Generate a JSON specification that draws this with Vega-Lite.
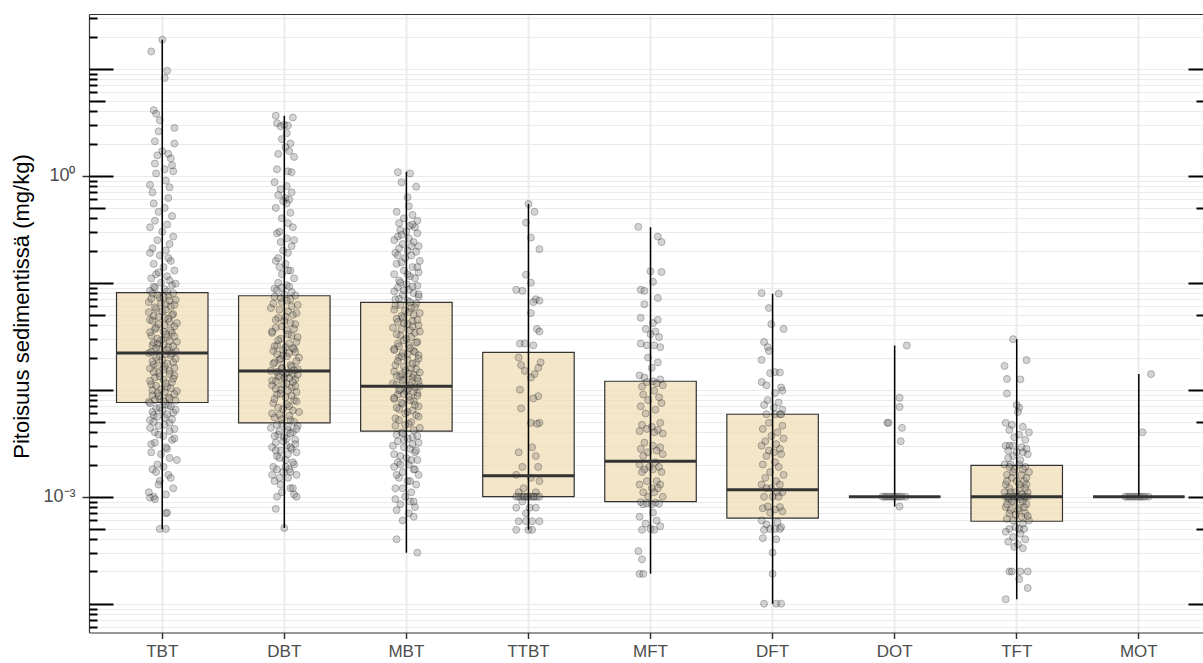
{
"$schema": "https://vega.github.io/schema/vega-lite/v6.json",
"width": 1114,
"height": 618.5,
"autosize": {"type": "none"},
"padding": {"left": 89, "top": 14, "right": 0, "bottom": 30.5},
"background": "white",
"config": {"view": {"stroke": null}, "font": "Liberation Sans", "axis": {"labelFont": "Liberation Sans", "titleFont": "Liberation Sans"}},
"datasets": {
"box": [
{"g":"TBT","min":0.0005,"q1":0.0076,"med":0.022,"q3":0.081,"max":18.7},
{"g":"DBT","min":0.00051,"q1":0.0049,"med":0.015,"q3":0.0756,"max":3.64},
{"g":"MBT","min":0.0003,"q1":0.0041,"med":0.0108,"q3":0.0654,"max":1.09},
{"g":"TTBT","min":0.00049,"q1":0.001,"med":0.00157,"q3":0.0223,"max":0.545},
{"g":"MFT","min":0.00019,"q1":0.0009,"med":0.00214,"q3":0.012,"max":0.33},
{"g":"DFT","min":0.0001,"q1":0.00063,"med":0.00116,"q3":0.0059,"max":0.079},
{"g":"DOT","min":0.00081,"q1":0.001,"med":0.001,"q3":0.001,"max":0.0259},
{"g":"TFT","min":0.00011,"q1":0.00059,"med":0.001,"q3":0.00196,"max":0.0297},
{"g":"MOT","min":0.001,"q1":0.001,"med":0.001,"q3":0.001,"max":0.014}
],
"pts": [
{"g":"TBT","v":18.7,"j":0},{"g":"TBT","v":14.5,"j":-0.09},{"g":"TBT","v":9.6,"j":0.04},{"g":"TBT","v":8.2,"j":0.02},{"g":"TBT","v":4.1,"j":-0.07},{"g":"TBT","v":3.8,"j":-0.05},{"g":"TBT","v":3.3,"j":-0.02},{"g":"TBT","v":2.8,"j":0.1},{"g":"TBT","v":2.6,"j":-0.03},{"g":"TBT","v":2.1,"j":-0.06},{"g":"TBT","v":2.0,"j":0.1},{"g":"TBT","v":1.7,"j":0},{"g":"TBT","v":1.6,"j":0.05},{"g":"TBT","v":1.55,"j":-0.04},{"g":"TBT","v":1.45,"j":0.07},{"g":"TBT","v":1.3,"j":-0.06},{"g":"TBT","v":1.25,"j":0.08},{"g":"TBT","v":1.15,"j":0.02},{"g":"TBT","v":1.1,"j":0.09},{"g":"TBT","v":1.05,"j":-0.05},{"g":"TBT","v":0.9,"j":0.03},{"g":"TBT","v":0.82,"j":-0.1},{"g":"TBT","v":0.78,"j":0.06},{"g":"TBT","v":0.7,"j":-0.08},{"g":"TBT","v":0.62,"j":0.05},{"g":"TBT","v":0.55,"j":-0.07},{"g":"TBT","v":0.5,"j":0.02},{"g":"TBT","v":0.46,"j":-0.03},{"g":"TBT","v":0.42,"j":0.08},{"g":"TBT","v":0.38,"j":-0.06},{"g":"TBT","v":0.35,"j":0.04},{"g":"TBT","v":0.33,"j":-0.1},{"g":"TBT","v":0.3,"j":0},{"g":"TBT","v":0.27,"j":0.09},{"g":"TBT","v":0.25,"j":-0.04},{"g":"TBT","v":0.23,"j":0.06},{"g":"TBT","v":0.21,"j":-0.08},{"g":"TBT","v":0.2,"j":0.03},{"g":"TBT","v":0.18,"j":-0.02},{"g":"TBT","v":0.16,"j":0.07},{"g":"TBT","v":0.15,"j":-0.07},{"g":"TBT","v":0.14,"j":0.01},{"g":"TBT","v":0.13,"j":0.1},{"g":"TBT","v":0.12,"j":-0.05},{"g":"TBT","v":0.115,"j":0.04},{"g":"TBT","v":0.11,"j":-0.09},{"g":"TBT","v":0.105,"j":0.06},{"g":"TBT","v":0.1,"j":-0.01},{"g":"TBT","v":0.095,"j":0.08},{"g":"TBT","v":0.09,"j":-0.06},{"g":"TBT","v":0.087,"j":0.02},{"g":"TBT","v":0.084,"j":-0.1},
{"g":"TBT","v":0.079,"j":-0.08},{"g":"TBT","v":0.075,"j":0.05},{"g":"TBT","v":0.072,"j":-0.02},{"g":"TBT","v":0.069,"j":0.11},{"g":"TBT","v":0.066,"j":-0.11},{"g":"TBT","v":0.063,"j":0.03},{"g":"TBT","v":0.06,"j":0.07},{"g":"TBT","v":0.057,"j":-0.05},{"g":"TBT","v":0.054,"j":0},{"g":"TBT","v":0.051,"j":0.09},{"g":"TBT","v":0.049,"j":-0.07},{"g":"TBT","v":0.047,"j":0.02},{"g":"TBT","v":0.045,"j":-0.1},{"g":"TBT","v":0.043,"j":0.06},{"g":"TBT","v":0.041,"j":-0.03},{"g":"TBT","v":0.039,"j":0.1},{"g":"TBT","v":0.037,"j":-0.06},{"g":"TBT","v":0.035,"j":0.01},{"g":"TBT","v":0.034,"j":0.08},{"g":"TBT","v":0.032,"j":-0.09},{"g":"TBT","v":0.031,"j":0.04},{"g":"TBT","v":0.029,"j":-0.01},{"g":"TBT","v":0.028,"j":0.12},{"g":"TBT","v":0.027,"j":-0.04},{"g":"TBT","v":0.026,"j":-0.08},{"g":"TBT","v":0.025,"j":0.05},{"g":"TBT","v":0.024,"j":-0.02},{"g":"TBT","v":0.023,"j":0.11},{"g":"TBT","v":0.022,"j":-0.11},{"g":"TBT","v":0.0215,"j":0.03},{"g":"TBT","v":0.021,"j":0.07},{"g":"TBT","v":0.02,"j":-0.05},{"g":"TBT","v":0.019,"j":0},{"g":"TBT","v":0.018,"j":0.09},{"g":"TBT","v":0.0172,"j":-0.07},{"g":"TBT","v":0.0165,"j":0.02},{"g":"TBT","v":0.0158,"j":-0.1},{"g":"TBT","v":0.015,"j":0.06},{"g":"TBT","v":0.0143,"j":-0.03},{"g":"TBT","v":0.0136,"j":0.1},{"g":"TBT","v":0.013,"j":-0.06},{"g":"TBT","v":0.0124,"j":0.01},{"g":"TBT","v":0.0118,"j":0.08},{"g":"TBT","v":0.0112,"j":-0.09},{"g":"TBT","v":0.0106,"j":0.04},{"g":"TBT","v":0.0101,"j":-0.01},{"g":"TBT","v":0.0097,"j":0.12},{"g":"TBT","v":0.0093,"j":-0.04},{"g":"TBT","v":0.0089,"j":-0.08},{"g":"TBT","v":0.0085,"j":0.05},{"g":"TBT","v":0.0082,"j":-0.02},{"g":"TBT","v":0.0079,"j":0.11},{"g":"TBT","v":0.0077,"j":-0.11},
{"g":"TBT","v":0.0073,"j":0.03},{"g":"TBT","v":0.007,"j":0.07},{"g":"TBT","v":0.0067,"j":-0.05},{"g":"TBT","v":0.0064,"j":0},{"g":"TBT","v":0.0061,"j":0.09},{"g":"TBT","v":0.0058,"j":-0.07},{"g":"TBT","v":0.0055,"j":0.02},{"g":"TBT","v":0.0052,"j":-0.1},{"g":"TBT","v":0.0049,"j":0.06},{"g":"TBT","v":0.0046,"j":-0.03},{"g":"TBT","v":0.0043,"j":0.1},{"g":"TBT","v":0.004,"j":-0.06},{"g":"TBT","v":0.0037,"j":0.01},{"g":"TBT","v":0.0034,"j":0.08},{"g":"TBT","v":0.0031,"j":-0.09},{"g":"TBT","v":0.0028,"j":0.04},{"g":"TBT","v":0.0025,"j":-0.01},{"g":"TBT","v":0.0022,"j":0.12},{"g":"TBT","v":0.002,"j":-0.04},{"g":"TBT","v":0.0018,"j":-0.08},{"g":"TBT","v":0.0016,"j":0.05},{"g":"TBT","v":0.0014,"j":-0.02},{"g":"TBT","v":0.0012,"j":0.09},{"g":"TBT","v":0.0011,"j":-0.11},{"g":"TBT","v":0.00105,"j":0.03},{"g":"TBT","v":0.001,"j":-0.07},{"g":"TBT","v":0.00098,"j":-0.1},{"g":"TBT","v":0.00095,"j":-0.06},{"g":"TBT","v":0.0007,"j":0.03},{"g":"TBT","v":0.00071,"j":0.04},{"g":"TBT","v":0.0005,"j":-0.02},{"g":"TBT","v":0.0005,"j":0.03},
{"g":"TBT","v":0.19,"j":-0.1},{"g":"TBT","v":0.17,"j":0.05},{"g":"TBT","v":0.125,"j":-0.03},{"g":"TBT","v":0.098,"j":0.11},{"g":"TBT","v":0.092,"j":-0.07},{"g":"TBT","v":0.083,"j":0.04},{"g":"TBT","v":0.08,"j":0.09},{"g":"TBT","v":0.077,"j":-0.04},{"g":"TBT","v":0.074,"j":0.01},{"g":"TBT","v":0.071,"j":-0.09},{"g":"TBT","v":0.068,"j":0.06},{"g":"TBT","v":0.065,"j":-0.01},{"g":"TBT","v":0.062,"j":0.1},{"g":"TBT","v":0.059,"j":-0.06},{"g":"TBT","v":0.056,"j":0.03},{"g":"TBT","v":0.053,"j":-0.11},{"g":"TBT","v":0.05,"j":0.08},{"g":"TBT","v":0.048,"j":-0.03},{"g":"TBT","v":0.046,"j":0.05},{"g":"TBT","v":0.044,"j":-0.08},{"g":"TBT","v":0.042,"j":0.12},{"g":"TBT","v":0.04,"j":0.02},{"g":"TBT","v":0.038,"j":-0.05},{"g":"TBT","v":0.036,"j":0.07},{"g":"TBT","v":0.0345,"j":-0.1},{"g":"TBT","v":0.033,"j":0.03},{"g":"TBT","v":0.0315,"j":0.1},{"g":"TBT","v":0.03,"j":-0.04},{"g":"TBT","v":0.0285,"j":0.06},{"g":"TBT","v":0.0275,"j":-0.07},{"g":"TBT","v":0.0265,"j":0.01},{"g":"TBT","v":0.0255,"j":0.09},{"g":"TBT","v":0.0245,"j":-0.05},{"g":"TBT","v":0.0235,"j":0.04},{"g":"TBT","v":0.0225,"j":-0.09},{"g":"TBT","v":0.0218,"j":0.08},{"g":"TBT","v":0.0205,"j":-0.02},{"g":"TBT","v":0.0195,"j":0.11},{"g":"TBT","v":0.0185,"j":-0.08},{"g":"TBT","v":0.0176,"j":0.04},{"g":"TBT","v":0.0168,"j":-0.04},{"g":"TBT","v":0.016,"j":0.1},{"g":"TBT","v":0.0154,"j":0.01},{"g":"TBT","v":0.0146,"j":-0.07},{"g":"TBT","v":0.014,"j":0.06},{"g":"TBT","v":0.0133,"j":-0.02},{"g":"TBT","v":0.0127,"j":0.09},{"g":"TBT","v":0.0121,"j":-0.1},{"g":"TBT","v":0.0115,"j":0.03},{"g":"TBT","v":0.0109,"j":-0.05},{"g":"TBT","v":0.0103,"j":0.07},{"g":"TBT","v":0.0099,"j":-0.08},{"g":"TBT","v":0.0095,"j":0.02},{"g":"TBT","v":0.0091,"j":0.1},{"g":"TBT","v":0.0087,"j":-0.03},{"g":"TBT","v":0.0083,"j":0.06},{"g":"TBT","v":0.008,"j":-0.06},{"g":"TBT","v":0.0078,"j":0.01},{"g":"TBT","v":0.0075,"j":-0.1},{"g":"TBT","v":0.0071,"j":0.05},{"g":"TBT","v":0.0068,"j":-0.02},{"g":"TBT","v":0.0065,"j":0.11},{"g":"TBT","v":0.0062,"j":-0.08},{"g":"TBT","v":0.0059,"j":0.04},{"g":"TBT","v":0.0056,"j":-0.04},{"g":"TBT","v":0.0053,"j":0.08},{"g":"TBT","v":0.005,"j":-0.07},{"g":"TBT","v":0.0047,"j":0.02},{"g":"TBT","v":0.0044,"j":-0.1},{"g":"TBT","v":0.0041,"j":0.06},{"g":"TBT","v":0.0038,"j":-0.03},{"g":"TBT","v":0.0035,"j":0.1},{"g":"TBT","v":0.0032,"j":-0.06},{"g":"TBT","v":0.0029,"j":0.03},{"g":"TBT","v":0.0026,"j":-0.09},{"g":"TBT","v":0.0023,"j":0.06},{"g":"TBT","v":0.0019,"j":0.01},{"g":"TBT","v":0.0017,"j":-0.05},{"g":"TBT","v":0.0015,"j":0.07},{"g":"TBT","v":0.0013,"j":-0.03},
{"g":"DBT","v":3.64,"j":-0.07},{"g":"DBT","v":3.5,"j":0.07},{"g":"DBT","v":3.1,"j":-0.06},{"g":"DBT","v":3.0,"j":0},{"g":"DBT","v":2.95,"j":0.03},{"g":"DBT","v":2.9,"j":-0.03},{"g":"DBT","v":2.5,"j":0.02},{"g":"DBT","v":2.2,"j":-0.02},{"g":"DBT","v":2.0,"j":0.05},{"g":"DBT","v":1.85,"j":0.01},{"g":"DBT","v":1.7,"j":0.04},{"g":"DBT","v":1.6,"j":-0.05},{"g":"DBT","v":1.5,"j":0.08},{"g":"DBT","v":1.15,"j":-0.06},{"g":"DBT","v":1.1,"j":0.03},{"g":"DBT","v":1.08,"j":0.06},{"g":"DBT","v":0.87,"j":-0.08},{"g":"DBT","v":0.8,"j":0.02},{"g":"DBT","v":0.75,"j":-0.03},{"g":"DBT","v":0.7,"j":0.06},{"g":"DBT","v":0.66,"j":-0.05},{"g":"DBT","v":0.62,"j":0.01},{"g":"DBT","v":0.6,"j":0.04},{"g":"DBT","v":0.58,"j":-0.01},{"g":"DBT","v":0.5,"j":-0.07},{"g":"DBT","v":0.45,"j":0.05},{"g":"DBT","v":0.4,"j":-0.02},{"g":"DBT","v":0.36,"j":0.03},{"g":"DBT","v":0.33,"j":0.07},{"g":"DBT","v":0.29,"j":-0.06},{"g":"DBT","v":0.26,"j":0.02},{"g":"DBT","v":0.24,"j":-0.03},{"g":"DBT","v":0.22,"j":0.06},{"g":"DBT","v":0.2,"j":-0.01},{"g":"DBT","v":0.19,"j":0.03},{"g":"DBT","v":0.16,"j":-0.07},{"g":"DBT","v":0.15,"j":0.01},{"g":"DBT","v":0.14,"j":-0.04},{"g":"DBT","v":0.13,"j":0.05},{"g":"DBT","v":0.12,"j":-0.02},{"g":"DBT","v":0.11,"j":0.08},{"g":"DBT","v":0.1,"j":-0.05},{"g":"DBT","v":0.095,"j":0.02},{"g":"DBT","v":0.088,"j":-0.08},{"g":"DBT","v":0.082,"j":0.06},{"g":"DBT","v":0.078,"j":0},
{"g":"DBT","v":0.074,"j":-0.08},{"g":"DBT","v":0.07,"j":0.05},{"g":"DBT","v":0.066,"j":-0.02},{"g":"DBT","v":0.062,"j":0.11},{"g":"DBT","v":0.058,"j":-0.11},{"g":"DBT","v":0.054,"j":0.03},{"g":"DBT","v":0.05,"j":0.07},{"g":"DBT","v":0.047,"j":-0.05},{"g":"DBT","v":0.044,"j":0},{"g":"DBT","v":0.041,"j":0.09},{"g":"DBT","v":0.038,"j":-0.07},{"g":"DBT","v":0.036,"j":0.02},{"g":"DBT","v":0.034,"j":-0.1},{"g":"DBT","v":0.032,"j":0.06},{"g":"DBT","v":0.03,"j":-0.03},{"g":"DBT","v":0.028,"j":0.1},{"g":"DBT","v":0.026,"j":-0.06},{"g":"DBT","v":0.025,"j":0.01},{"g":"DBT","v":0.024,"j":0.08},{"g":"DBT","v":0.023,"j":-0.09},{"g":"DBT","v":0.022,"j":0.04},{"g":"DBT","v":0.021,"j":-0.01},{"g":"DBT","v":0.02,"j":0.12},{"g":"DBT","v":0.019,"j":-0.04},{"g":"DBT","v":0.018,"j":-0.08},{"g":"DBT","v":0.017,"j":0.05},{"g":"DBT","v":0.016,"j":-0.02},{"g":"DBT","v":0.0155,"j":0.11},{"g":"DBT","v":0.015,"j":-0.11},{"g":"DBT","v":0.0145,"j":0.03},{"g":"DBT","v":0.014,"j":0.07},{"g":"DBT","v":0.0135,"j":-0.05},{"g":"DBT","v":0.013,"j":0},{"g":"DBT","v":0.0125,"j":0.09},{"g":"DBT","v":0.012,"j":-0.07},{"g":"DBT","v":0.0115,"j":0.02},{"g":"DBT","v":0.011,"j":-0.1},{"g":"DBT","v":0.0105,"j":0.06},{"g":"DBT","v":0.01,"j":-0.03},{"g":"DBT","v":0.0095,"j":0.1},{"g":"DBT","v":0.009,"j":-0.06},{"g":"DBT","v":0.0085,"j":0.01},{"g":"DBT","v":0.008,"j":0.08},{"g":"DBT","v":0.0075,"j":-0.09},{"g":"DBT","v":0.007,"j":0.04},{"g":"DBT","v":0.0066,"j":-0.01},{"g":"DBT","v":0.0062,"j":0.12},{"g":"DBT","v":0.0058,"j":-0.04},{"g":"DBT","v":0.0055,"j":-0.08},{"g":"DBT","v":0.0052,"j":0.05},
{"g":"DBT","v":0.0048,"j":-0.02},{"g":"DBT","v":0.0046,"j":0.11},{"g":"DBT","v":0.0044,"j":-0.11},{"g":"DBT","v":0.0042,"j":0.03},{"g":"DBT","v":0.004,"j":0.07},{"g":"DBT","v":0.0038,"j":-0.05},{"g":"DBT","v":0.0036,"j":0},{"g":"DBT","v":0.0034,"j":0.09},{"g":"DBT","v":0.0032,"j":-0.07},{"g":"DBT","v":0.003,"j":0.02},{"g":"DBT","v":0.0029,"j":-0.1},{"g":"DBT","v":0.0028,"j":0.06},{"g":"DBT","v":0.0027,"j":-0.03},{"g":"DBT","v":0.0026,"j":0.1},{"g":"DBT","v":0.0024,"j":-0.06},{"g":"DBT","v":0.0022,"j":0.01},{"g":"DBT","v":0.002,"j":0.08},{"g":"DBT","v":0.0019,"j":-0.09},{"g":"DBT","v":0.0018,"j":0.04},{"g":"DBT","v":0.0017,"j":-0.01},{"g":"DBT","v":0.0016,"j":0.1},{"g":"DBT","v":0.0015,"j":-0.04},{"g":"DBT","v":0.0014,"j":-0.08},{"g":"DBT","v":0.0012,"j":0.05},{"g":"DBT","v":0.0011,"j":-0.02},{"g":"DBT","v":0.00105,"j":0.08},{"g":"DBT","v":0.001,"j":-0.06},{"g":"DBT","v":0.001,"j":0.1},{"g":"DBT","v":0.00077,"j":-0.07},{"g":"DBT","v":0.00051,"j":0},
{"g":"DBT","v":0.092,"j":0.04},{"g":"DBT","v":0.085,"j":-0.06},{"g":"DBT","v":0.076,"j":0.09},{"g":"DBT","v":0.072,"j":-0.03},{"g":"DBT","v":0.068,"j":0.02},{"g":"DBT","v":0.064,"j":-0.09},{"g":"DBT","v":0.06,"j":0.06},{"g":"DBT","v":0.056,"j":-0.04},{"g":"DBT","v":0.052,"j":0.1},{"g":"DBT","v":0.048,"j":0.01},{"g":"DBT","v":0.045,"j":-0.07},{"g":"DBT","v":0.042,"j":0.05},{"g":"DBT","v":0.039,"j":-0.02},{"g":"DBT","v":0.037,"j":0.08},{"g":"DBT","v":0.035,"j":-0.1},{"g":"DBT","v":0.033,"j":0.03},{"g":"DBT","v":0.031,"j":0.11},{"g":"DBT","v":0.029,"j":-0.05},{"g":"DBT","v":0.027,"j":0.04},{"g":"DBT","v":0.0255,"j":-0.08},{"g":"DBT","v":0.0245,"j":0.07},{"g":"DBT","v":0.0235,"j":-0.01},{"g":"DBT","v":0.0225,"j":0.09},{"g":"DBT","v":0.0215,"j":-0.06},{"g":"DBT","v":0.0205,"j":0.02},{"g":"DBT","v":0.0195,"j":-0.03},{"g":"DBT","v":0.0185,"j":0.1},{"g":"DBT","v":0.0175,"j":-0.09},{"g":"DBT","v":0.0165,"j":0.06},{"g":"DBT","v":0.0158,"j":-0.02},{"g":"DBT","v":0.0152,"j":0.08},{"g":"DBT","v":0.0147,"j":-0.06},{"g":"DBT","v":0.0142,"j":0.01},{"g":"DBT","v":0.0138,"j":0.11},{"g":"DBT","v":0.0132,"j":-0.04},{"g":"DBT","v":0.0128,"j":0.04},{"g":"DBT","v":0.0122,"j":-0.1},{"g":"DBT","v":0.0118,"j":0.07},{"g":"DBT","v":0.0112,"j":-0.01},{"g":"DBT","v":0.0108,"j":0.09},{"g":"DBT","v":0.0102,"j":-0.07},{"g":"DBT","v":0.0098,"j":0.03},{"g":"DBT","v":0.0092,"j":-0.03},{"g":"DBT","v":0.0088,"j":0.06},{"g":"DBT","v":0.0082,"j":-0.08},{"g":"DBT","v":0.0078,"j":0.1},{"g":"DBT","v":0.0073,"j":0.02},{"g":"DBT","v":0.0068,"j":-0.05},{"g":"DBT","v":0.0064,"j":0.07},{"g":"DBT","v":0.006,"j":-0.1},{"g":"DBT","v":0.0057,"j":0.04},{"g":"DBT","v":0.0053,"j":-0.02},{"g":"DBT","v":0.005,"j":0.08},{"g":"DBT","v":0.0047,"j":-0.06},{"g":"DBT","v":0.0045,"j":0.03},{"g":"DBT","v":0.0043,"j":0.1},{"g":"DBT","v":0.0041,"j":-0.04},{"g":"DBT","v":0.0039,"j":0.05},{"g":"DBT","v":0.0037,"j":-0.08},{"g":"DBT","v":0.0035,"j":0.02},{"g":"DBT","v":0.0033,"j":-0.01},{"g":"DBT","v":0.0031,"j":0.09},{"g":"DBT","v":0.0029,"j":0.05},{"g":"DBT","v":0.0027,"j":-0.07},{"g":"DBT","v":0.0025,"j":0.03},{"g":"DBT","v":0.0023,"j":-0.04},{"g":"DBT","v":0.0021,"j":0.07},{"g":"DBT","v":0.0019,"j":0.01},{"g":"DBT","v":0.0018,"j":-0.06},{"g":"DBT","v":0.0017,"j":0.05},{"g":"DBT","v":0.0016,"j":-0.1},{"g":"DBT","v":0.0015,"j":0.03},{"g":"DBT","v":0.0013,"j":-0.03},{"g":"DBT","v":0.0012,"j":0.07},{"g":"DBT","v":0.09,"j":-0.02},{"g":"DBT","v":0.13,"j":0.03},{"g":"DBT","v":0.17,"j":-0.05},{"g":"DBT","v":0.25,"j":0.08},{"g":"DBT","v":0.3,"j":-0.04},{"g":"DBT","v":0.55,"j":0.02},
{"g":"MBT","v":1.08,"j":-0.07},{"g":"MBT","v":1.05,"j":0.03},{"g":"MBT","v":0.87,"j":-0.04},{"g":"MBT","v":0.79,"j":0.08},{"g":"MBT","v":0.63,"j":0.01},{"g":"MBT","v":0.52,"j":0.02},{"g":"MBT","v":0.46,"j":-0.08},{"g":"MBT","v":0.43,"j":0.05},{"g":"MBT","v":0.4,"j":-0.02},{"g":"MBT","v":0.38,"j":0.09},{"g":"MBT","v":0.36,"j":-0.06},{"g":"MBT","v":0.34,"j":0.03},{"g":"MBT","v":0.33,"j":0.07},{"g":"MBT","v":0.31,"j":-0.05},{"g":"MBT","v":0.3,"j":0},{"g":"MBT","v":0.29,"j":0.09},{"g":"MBT","v":0.27,"j":-0.07},{"g":"MBT","v":0.26,"j":0.02},{"g":"MBT","v":0.25,"j":-0.1},{"g":"MBT","v":0.24,"j":0.06},{"g":"MBT","v":0.23,"j":-0.03},{"g":"MBT","v":0.22,"j":0.1},{"g":"MBT","v":0.21,"j":-0.06},{"g":"MBT","v":0.2,"j":0.01},{"g":"MBT","v":0.195,"j":0.08},{"g":"MBT","v":0.19,"j":-0.09},{"g":"MBT","v":0.18,"j":0.04},{"g":"MBT","v":0.17,"j":-0.01},{"g":"MBT","v":0.16,"j":0.11},{"g":"MBT","v":0.155,"j":-0.04},{"g":"MBT","v":0.15,"j":-0.08},{"g":"MBT","v":0.14,"j":0.05},{"g":"MBT","v":0.13,"j":-0.02},{"g":"MBT","v":0.125,"j":0.1},{"g":"MBT","v":0.12,"j":-0.1},{"g":"MBT","v":0.115,"j":0.03},{"g":"MBT","v":0.11,"j":0.07},{"g":"MBT","v":0.1,"j":-0.05},{"g":"MBT","v":0.097,"j":0},{"g":"MBT","v":0.094,"j":0.09},{"g":"MBT","v":0.09,"j":-0.07},{"g":"MBT","v":0.086,"j":0.02},{"g":"MBT","v":0.083,"j":-0.1},{"g":"MBT","v":0.08,"j":0.06},{"g":"MBT","v":0.077,"j":-0.03},{"g":"MBT","v":0.074,"j":0.1},{"g":"MBT","v":0.071,"j":-0.06},{"g":"MBT","v":0.068,"j":0.01},
{"g":"MBT","v":0.064,"j":0.08},{"g":"MBT","v":0.061,"j":-0.09},{"g":"MBT","v":0.058,"j":0.04},{"g":"MBT","v":0.055,"j":-0.01},{"g":"MBT","v":0.052,"j":0.11},{"g":"MBT","v":0.049,"j":-0.04},{"g":"MBT","v":0.046,"j":-0.08},{"g":"MBT","v":0.044,"j":0.05},{"g":"MBT","v":0.042,"j":-0.02},{"g":"MBT","v":0.04,"j":0.1},{"g":"MBT","v":0.038,"j":-0.11},{"g":"MBT","v":0.036,"j":0.03},{"g":"MBT","v":0.034,"j":0.07},{"g":"MBT","v":0.032,"j":-0.05},{"g":"MBT","v":0.03,"j":0},{"g":"MBT","v":0.028,"j":0.09},{"g":"MBT","v":0.027,"j":-0.07},{"g":"MBT","v":0.026,"j":0.02},{"g":"MBT","v":0.024,"j":-0.1},{"g":"MBT","v":0.023,"j":0.06},{"g":"MBT","v":0.022,"j":-0.03},{"g":"MBT","v":0.021,"j":0.1},{"g":"MBT","v":0.02,"j":-0.06},{"g":"MBT","v":0.019,"j":0.01},{"g":"MBT","v":0.018,"j":0.08},{"g":"MBT","v":0.017,"j":-0.09},{"g":"MBT","v":0.016,"j":0.04},{"g":"MBT","v":0.015,"j":-0.01},{"g":"MBT","v":0.0145,"j":0.11},{"g":"MBT","v":0.014,"j":-0.04},{"g":"MBT","v":0.0135,"j":-0.08},{"g":"MBT","v":0.013,"j":0.05},{"g":"MBT","v":0.0125,"j":-0.02},{"g":"MBT","v":0.012,"j":0.1},{"g":"MBT","v":0.0115,"j":-0.11},{"g":"MBT","v":0.011,"j":0.03},{"g":"MBT","v":0.0105,"j":0.07},{"g":"MBT","v":0.01,"j":-0.05},{"g":"MBT","v":0.0097,"j":0},{"g":"MBT","v":0.0093,"j":0.09},{"g":"MBT","v":0.009,"j":-0.07},{"g":"MBT","v":0.0086,"j":0.02},{"g":"MBT","v":0.0082,"j":-0.1},{"g":"MBT","v":0.0078,"j":0.06},{"g":"MBT","v":0.0074,"j":-0.03},{"g":"MBT","v":0.007,"j":0.1},{"g":"MBT","v":0.0066,"j":-0.06},{"g":"MBT","v":0.0062,"j":0.01},{"g":"MBT","v":0.0058,"j":0.08},{"g":"MBT","v":0.0054,"j":-0.09},{"g":"MBT","v":0.005,"j":0.04},{"g":"MBT","v":0.0047,"j":-0.01},{"g":"MBT","v":0.0044,"j":0.11},
{"g":"MBT","v":0.004,"j":-0.04},{"g":"MBT","v":0.0038,"j":-0.08},{"g":"MBT","v":0.0036,"j":0.05},{"g":"MBT","v":0.0034,"j":-0.02},{"g":"MBT","v":0.0032,"j":0.1},{"g":"MBT","v":0.003,"j":-0.11},{"g":"MBT","v":0.0028,"j":0.03},{"g":"MBT","v":0.0026,"j":0.07},{"g":"MBT","v":0.0024,"j":-0.05},{"g":"MBT","v":0.0023,"j":0},{"g":"MBT","v":0.0022,"j":0.09},{"g":"MBT","v":0.0021,"j":-0.07},{"g":"MBT","v":0.002,"j":0.02},{"g":"MBT","v":0.0019,"j":-0.1},{"g":"MBT","v":0.0018,"j":0.06},{"g":"MBT","v":0.0017,"j":-0.03},{"g":"MBT","v":0.0016,"j":0.1},{"g":"MBT","v":0.0015,"j":-0.06},{"g":"MBT","v":0.0014,"j":0.01},{"g":"MBT","v":0.0013,"j":0.08},{"g":"MBT","v":0.0012,"j":-0.09},{"g":"MBT","v":0.0011,"j":0.04},{"g":"MBT","v":0.001,"j":-0.01},{"g":"MBT","v":0.00095,"j":-0.09},{"g":"MBT","v":0.0009,"j":0.03},{"g":"MBT","v":0.00085,"j":-0.05},{"g":"MBT","v":0.0008,"j":0.07},{"g":"MBT","v":0.00075,"j":-0.08},{"g":"MBT","v":0.0007,"j":0.02},{"g":"MBT","v":0.00065,"j":0.06},{"g":"MBT","v":0.0006,"j":-0.03},{"g":"MBT","v":0.0004,"j":-0.08},{"g":"MBT","v":0.0003,"j":0.09},
{"g":"MBT","v":0.35,"j":0.05},{"g":"MBT","v":0.28,"j":-0.04},{"g":"MBT","v":0.22,"j":0.04},{"g":"MBT","v":0.18,"j":-0.07},{"g":"MBT","v":0.14,"j":0.09},{"g":"MBT","v":0.12,"j":0.01},{"g":"MBT","v":0.105,"j":-0.06},{"g":"MBT","v":0.092,"j":0.05},{"g":"MBT","v":0.085,"j":-0.02},{"g":"MBT","v":0.078,"j":0.1},{"g":"MBT","v":0.07,"j":-0.09},{"g":"MBT","v":0.066,"j":0.03},{"g":"MBT","v":0.062,"j":-0.05},{"g":"MBT","v":0.059,"j":0.07},{"g":"MBT","v":0.056,"j":-0.1},{"g":"MBT","v":0.053,"j":0.02},{"g":"MBT","v":0.05,"j":0.06},{"g":"MBT","v":0.047,"j":-0.03},{"g":"MBT","v":0.045,"j":0.09},{"g":"MBT","v":0.043,"j":-0.07},{"g":"MBT","v":0.041,"j":0.01},{"g":"MBT","v":0.039,"j":0.05},{"g":"MBT","v":0.037,"j":-0.04},{"g":"MBT","v":0.035,"j":0.11},{"g":"MBT","v":0.033,"j":-0.08},{"g":"MBT","v":0.031,"j":0.04},{"g":"MBT","v":0.029,"j":-0.02},{"g":"MBT","v":0.0275,"j":0.08},{"g":"MBT","v":0.0255,"j":-0.06},{"g":"MBT","v":0.0245,"j":0.03},{"g":"MBT","v":0.0235,"j":-0.1},{"g":"MBT","v":0.0225,"j":0.07},{"g":"MBT","v":0.0215,"j":0.01},{"g":"MBT","v":0.0205,"j":-0.04},{"g":"MBT","v":0.0195,"j":0.1},{"g":"MBT","v":0.0185,"j":-0.07},{"g":"MBT","v":0.0175,"j":0.05},{"g":"MBT","v":0.0165,"j":-0.02},{"g":"MBT","v":0.0155,"j":0.08},{"g":"MBT","v":0.0148,"j":-0.1},{"g":"MBT","v":0.0142,"j":0.02},{"g":"MBT","v":0.0138,"j":0.06},{"g":"MBT","v":0.0132,"j":-0.05},{"g":"MBT","v":0.0128,"j":0.09},{"g":"MBT","v":0.0122,"j":-0.03},{"g":"MBT","v":0.0118,"j":0.04},{"g":"MBT","v":0.0112,"j":-0.08},{"g":"MBT","v":0.0108,"j":0.11},{"g":"MBT","v":0.0102,"j":0.01},{"g":"MBT","v":0.0099,"j":-0.06},{"g":"MBT","v":0.0095,"j":0.06},{"g":"MBT","v":0.0091,"j":-0.02},{"g":"MBT","v":0.0088,"j":0.09},{"g":"MBT","v":0.0084,"j":-0.1},{"g":"MBT","v":0.008,"j":0.03},{"g":"MBT","v":0.0076,"j":-0.04},{"g":"MBT","v":0.0072,"j":0.07},{"g":"MBT","v":0.0068,"j":-0.08},{"g":"MBT","v":0.0064,"j":0.05},{"g":"MBT","v":0.006,"j":-0.01},{"g":"MBT","v":0.0056,"j":0.1},{"g":"MBT","v":0.0052,"j":-0.06},{"g":"MBT","v":0.0048,"j":0.02},{"g":"MBT","v":0.0046,"j":-0.09},{"g":"MBT","v":0.0042,"j":0.06},{"g":"MBT","v":0.0039,"j":-0.03},{"g":"MBT","v":0.0037,"j":0.09},{"g":"MBT","v":0.0035,"j":0.01},{"g":"MBT","v":0.0033,"j":-0.07},{"g":"MBT","v":0.0031,"j":0.05},{"g":"MBT","v":0.0029,"j":-0.02},{"g":"MBT","v":0.0027,"j":0.08},{"g":"MBT","v":0.0025,"j":-0.1},{"g":"MBT","v":0.0022,"j":0.04},{"g":"MBT","v":0.002,"j":-0.05},{"g":"MBT","v":0.0018,"j":0.07},{"g":"MBT","v":0.0016,"j":-0.08},{"g":"MBT","v":0.0014,"j":0.03},{"g":"MBT","v":0.0012,"j":-0.03},{"g":"MBT","v":0.0009,"j":0.06},
{"g":"TTBT","v":0.545,"j":0},{"g":"TTBT","v":0.46,"j":0.05},{"g":"TTBT","v":0.364,"j":-0.02},{"g":"TTBT","v":0.264,"j":0.02},{"g":"TTBT","v":0.206,"j":0.09},{"g":"TTBT","v":0.119,"j":-0.02},{"g":"TTBT","v":0.1,"j":0.02},{"g":"TTBT","v":0.086,"j":-0.1},{"g":"TTBT","v":0.084,"j":-0.05},{"g":"TTBT","v":0.07,"j":0.06},{"g":"TTBT","v":0.068,"j":0.09},{"g":"TTBT","v":0.066,"j":0.04},{"g":"TTBT","v":0.052,"j":0.02},{"g":"TTBT","v":0.037,"j":0.07},{"g":"TTBT","v":0.035,"j":0.09},{"g":"TTBT","v":0.027,"j":-0.07},{"g":"TTBT","v":0.027,"j":-0.03},{"g":"TTBT","v":0.026,"j":0.04},{"g":"TTBT","v":0.02,"j":-0.08},{"g":"TTBT","v":0.018,"j":0.1},{"g":"TTBT","v":0.017,"j":-0.06},{"g":"TTBT","v":0.016,"j":0.08},{"g":"TTBT","v":0.015,"j":-0.03},{"g":"TTBT","v":0.014,"j":0.05},{"g":"TTBT","v":0.013,"j":0.02},{"g":"TTBT","v":0.01,"j":-0.07},{"g":"TTBT","v":0.0087,"j":0.08},{"g":"TTBT","v":0.0083,"j":0.04},{"g":"TTBT","v":0.0067,"j":-0.06},{"g":"TTBT","v":0.0049,"j":0.02},{"g":"TTBT","v":0.0049,"j":0.09},{"g":"TTBT","v":0.0048,"j":0.07},{"g":"TTBT","v":0.0029,"j":0.03},{"g":"TTBT","v":0.0026,"j":-0.08},{"g":"TTBT","v":0.0024,"j":0.06},{"g":"TTBT","v":0.0019,"j":-0.05},{"g":"TTBT","v":0.0019,"j":0.08},{"g":"TTBT","v":0.0016,"j":-0.1},{"g":"TTBT","v":0.0015,"j":0.02},{"g":"TTBT","v":0.0014,"j":0.09},{"g":"TTBT","v":0.0012,"j":-0.04},{"g":"TTBT","v":0.0011,"j":0.06},{"g":"TTBT","v":0.0011,"j":-0.08},{"g":"TTBT","v":0.001,"j":-0.1},{"g":"TTBT","v":0.001,"j":-0.08},{"g":"TTBT","v":0.001,"j":-0.06},{"g":"TTBT","v":0.001,"j":-0.04},{"g":"TTBT","v":0.001,"j":-0.03},{"g":"TTBT","v":0.001,"j":-0.01},{"g":"TTBT","v":0.001,"j":0},{"g":"TTBT","v":0.001,"j":0.02},{"g":"TTBT","v":0.001,"j":0.04},{"g":"TTBT","v":0.001,"j":0.05},{"g":"TTBT","v":0.001,"j":0.07},{"g":"TTBT","v":0.001,"j":0.09},{"g":"TTBT","v":0.0009,"j":-0.05},{"g":"TTBT","v":0.00079,"j":-0.1},{"g":"TTBT","v":0.00079,"j":0.01},{"g":"TTBT","v":0.00079,"j":0.06},{"g":"TTBT","v":0.0007,"j":-0.02},{"g":"TTBT","v":0.00059,"j":-0.08},{"g":"TTBT","v":0.00059,"j":-0.02},{"g":"TTBT","v":0.00059,"j":0.03},{"g":"TTBT","v":0.00059,"j":0.09},{"g":"TTBT","v":0.00049,"j":-0.1},{"g":"TTBT","v":0.00049,"j":0},{"g":"TTBT","v":0.00049,"j":0.03},
{"g":"MFT","v":0.333,"j":-0.1},{"g":"MFT","v":0.27,"j":0.06},{"g":"MFT","v":0.24,"j":0.09},{"g":"MFT","v":0.128,"j":0},{"g":"MFT","v":0.126,"j":0.09},{"g":"MFT","v":0.102,"j":0.02},{"g":"MFT","v":0.086,"j":-0.08},{"g":"MFT","v":0.084,"j":-0.05},{"g":"MFT","v":0.072,"j":0.06},{"g":"MFT","v":0.063,"j":-0.05},{"g":"MFT","v":0.047,"j":-0.08},{"g":"MFT","v":0.045,"j":0.06},{"g":"MFT","v":0.042,"j":0.02},{"g":"MFT","v":0.037,"j":-0.04},{"g":"MFT","v":0.035,"j":0.04},{"g":"MFT","v":0.033,"j":0},{"g":"MFT","v":0.031,"j":0.07},{"g":"MFT","v":0.027,"j":-0.08},{"g":"MFT","v":0.026,"j":-0.03},{"g":"MFT","v":0.026,"j":0.03},{"g":"MFT","v":0.025,"j":0.08},{"g":"MFT","v":0.02,"j":-0.02},{"g":"MFT","v":0.018,"j":0.06},{"g":"MFT","v":0.016,"j":0.01},{"g":"MFT","v":0.0136,"j":-0.09},{"g":"MFT","v":0.013,"j":-0.05},{"g":"MFT","v":0.0125,"j":0.08},{"g":"MFT","v":0.012,"j":0.02},{"g":"MFT","v":0.0118,"j":-0.03},{"g":"MFT","v":0.0115,"j":0.05},{"g":"MFT","v":0.011,"j":0.1},{"g":"MFT","v":0.0107,"j":-0.07},{"g":"MFT","v":0.0098,"j":0.03},{"g":"MFT","v":0.009,"j":-0.06},{"g":"MFT","v":0.0085,"j":0.07},{"g":"MFT","v":0.008,"j":-0.02},{"g":"MFT","v":0.0075,"j":0.09},{"g":"MFT","v":0.007,"j":-0.08},{"g":"MFT","v":0.0065,"j":0.04},{"g":"MFT","v":0.006,"j":-0.04},{"g":"MFT","v":0.0049,"j":0.08},{"g":"MFT","v":0.0047,"j":-0.07},{"g":"MFT","v":0.0045,"j":0.01},{"g":"MFT","v":0.0043,"j":-0.03},{"g":"MFT","v":0.0042,"j":0.06},{"g":"MFT","v":0.0041,"j":-0.09},{"g":"MFT","v":0.004,"j":0.03},{"g":"MFT","v":0.0039,"j":0.1},{"g":"MFT","v":0.0032,"j":-0.05},{"g":"MFT","v":0.003,"j":0.02},{"g":"MFT","v":0.0029,"j":0.08},{"g":"MFT","v":0.0028,"j":-0.08},{"g":"MFT","v":0.0027,"j":0.05},{"g":"MFT","v":0.0026,"j":-0.02},{"g":"MFT","v":0.0025,"j":0.1},{"g":"MFT","v":0.0024,"j":-0.06},{"g":"MFT","v":0.0021,"j":0.04},{"g":"MFT","v":0.002,"j":-0.09},{"g":"MFT","v":0.0019,"j":0.07},{"g":"MFT","v":0.0019,"j":-0.01},{"g":"MFT","v":0.0018,"j":0.02},{"g":"MFT","v":0.0018,"j":-0.05},{"g":"MFT","v":0.0017,"j":0.09},{"g":"MFT","v":0.0017,"j":-0.07},{"g":"MFT","v":0.0014,"j":0.05},{"g":"MFT","v":0.0014,"j":-0.03},{"g":"MFT","v":0.0013,"j":0.08},{"g":"MFT","v":0.0013,"j":-0.09},{"g":"MFT","v":0.0012,"j":0.01},{"g":"MFT","v":0.0012,"j":0.06},{"g":"MFT","v":0.0011,"j":-0.06},{"g":"MFT","v":0.0011,"j":0.03},{"g":"MFT","v":0.001,"j":-0.02},{"g":"MFT","v":0.001,"j":0.1},{"g":"MFT","v":0.00089,"j":-0.08},{"g":"MFT","v":0.00088,"j":0.04},{"g":"MFT","v":0.00087,"j":-0.03},{"g":"MFT","v":0.00086,"j":0.07},{"g":"MFT","v":0.00085,"j":0.01},{"g":"MFT","v":0.00085,"j":-0.06},{"g":"MFT","v":0.00071,"j":0.02},{"g":"MFT","v":0.00065,"j":-0.09},{"g":"MFT","v":0.0006,"j":0.05},{"g":"MFT","v":0.00056,"j":-0.04},{"g":"MFT","v":0.00053,"j":0.08},{"g":"MFT","v":0.0005,"j":0},{"g":"MFT","v":0.00049,"j":-0.07},{"g":"MFT","v":0.00049,"j":0.03},{"g":"MFT","v":0.00031,"j":-0.1},{"g":"MFT","v":0.00026,"j":-0.07},{"g":"MFT","v":0.00019,"j":-0.09},{"g":"MFT","v":0.00019,"j":-0.06},
{"g":"DFT","v":0.08,"j":-0.09},{"g":"DFT","v":0.079,"j":0.05},{"g":"DFT","v":0.058,"j":-0.03},{"g":"DFT","v":0.041,"j":-0.01},{"g":"DFT","v":0.037,"j":0.09},{"g":"DFT","v":0.028,"j":-0.07},{"g":"DFT","v":0.025,"j":-0.04},{"g":"DFT","v":0.023,"j":-0.03},{"g":"DFT","v":0.019,"j":-0.09},{"g":"DFT","v":0.0146,"j":0.02},{"g":"DFT","v":0.0145,"j":0.06},{"g":"DFT","v":0.0143,"j":-0.02},{"g":"DFT","v":0.0118,"j":-0.09},{"g":"DFT","v":0.011,"j":-0.05},{"g":"DFT","v":0.0105,"j":0.07},{"g":"DFT","v":0.0098,"j":0.08},{"g":"DFT","v":0.0093,"j":0.02},{"g":"DFT","v":0.008,"j":-0.04},{"g":"DFT","v":0.0076,"j":0.05},{"g":"DFT","v":0.0072,"j":-0.07},{"g":"DFT","v":0.0068,"j":0.01},{"g":"DFT","v":0.0065,"j":0.08},{"g":"DFT","v":0.0059,"j":-0.05},{"g":"DFT","v":0.0059,"j":0.02},{"g":"DFT","v":0.0059,"j":0.06},{"g":"DFT","v":0.0059,"j":0.07},{"g":"DFT","v":0.0049,"j":-0.03},{"g":"DFT","v":0.0046,"j":0.08},{"g":"DFT","v":0.0043,"j":-0.08},{"g":"DFT","v":0.004,"j":0.04},{"g":"DFT","v":0.0037,"j":-0.01},{"g":"DFT","v":0.0035,"j":0.09},{"g":"DFT","v":0.0033,"j":-0.06},{"g":"DFT","v":0.0031,"j":0.03},{"g":"DFT","v":0.003,"j":-0.09},{"g":"DFT","v":0.0028,"j":0.06},{"g":"DFT","v":0.0027,"j":-0.03},{"g":"DFT","v":0.0026,"j":0.01},{"g":"DFT","v":0.0025,"j":0.07},{"g":"DFT","v":0.0024,"j":-0.05},{"g":"DFT","v":0.0021,"j":0.02},{"g":"DFT","v":0.002,"j":-0.08},{"g":"DFT","v":0.0019,"j":0.05},{"g":"DFT","v":0.0017,"j":-0.02},{"g":"DFT","v":0.0016,"j":0.09},{"g":"DFT","v":0.0015,"j":-0.06},{"g":"DFT","v":0.0014,"j":0.03},{"g":"DFT","v":0.0013,"j":-0.09},{"g":"DFT","v":0.0013,"j":0.06},{"g":"DFT","v":0.0012,"j":-0.01},{"g":"DFT","v":0.0012,"j":-0.05},{"g":"DFT","v":0.0011,"j":0.04},{"g":"DFT","v":0.0011,"j":0.08},{"g":"DFT","v":0.001,"j":-0.07},{"g":"DFT","v":0.001,"j":0},{"g":"DFT","v":0.001,"j":0.05},{"g":"DFT","v":0.00081,"j":-0.04},{"g":"DFT","v":0.0008,"j":0.06},{"g":"DFT","v":0.00078,"j":-0.08},{"g":"DFT","v":0.00076,"j":0.02},{"g":"DFT","v":0.00073,"j":0.08},{"g":"DFT","v":0.00071,"j":-0.02},{"g":"DFT","v":0.0006,"j":-0.09},{"g":"DFT","v":0.00058,"j":0.04},{"g":"DFT","v":0.00055,"j":-0.05},{"g":"DFT","v":0.00052,"j":0.07},{"g":"DFT","v":0.0005,"j":-0.02},{"g":"DFT","v":0.0005,"j":0.02},{"g":"DFT","v":0.0005,"j":0.06},{"g":"DFT","v":0.00049,"j":-0.07},{"g":"DFT","v":0.00041,"j":-0.08},{"g":"DFT","v":0.0004,"j":0.03},{"g":"DFT","v":0.0003,"j":0},{"g":"DFT","v":0.00019,"j":0},{"g":"DFT","v":0.0001,"j":-0.07},{"g":"DFT","v":0.0001,"j":0.03},{"g":"DFT","v":0.0001,"j":0.07},
{"g":"DOT","v":0.0259,"j":0.1},{"g":"DOT","v":0.0084,"j":0.04},{"g":"DOT","v":0.0069,"j":0.04},{"g":"DOT","v":0.0049,"j":-0.06},{"g":"DOT","v":0.0049,"j":-0.05},{"g":"DOT","v":0.0044,"j":0.06},{"g":"DOT","v":0.0033,"j":0.05},{"g":"DOT","v":0.001,"j":-0.1},{"g":"DOT","v":0.001,"j":-0.08},{"g":"DOT","v":0.001,"j":-0.06},{"g":"DOT","v":0.001,"j":-0.04},{"g":"DOT","v":0.001,"j":-0.02},{"g":"DOT","v":0.001,"j":0},{"g":"DOT","v":0.001,"j":0.02},{"g":"DOT","v":0.001,"j":0.04},{"g":"DOT","v":0.001,"j":0.06},{"g":"DOT","v":0.001,"j":0.09},{"g":"DOT","v":0.00081,"j":0.04},
{"g":"TFT","v":0.0297,"j":-0.03},{"g":"TFT","v":0.0189,"j":0.08},{"g":"TFT","v":0.0167,"j":-0.1},{"g":"TFT","v":0.0126,"j":-0.08},{"g":"TFT","v":0.0125,"j":0.03},{"g":"TFT","v":0.0092,"j":-0.08},{"g":"TFT","v":0.0072,"j":0},{"g":"TFT","v":0.0068,"j":0.02},{"g":"TFT","v":0.0062,"j":0.01},{"g":"TFT","v":0.0049,"j":-0.09},{"g":"TFT","v":0.0047,"j":-0.04},{"g":"TFT","v":0.0045,"j":0.05},{"g":"TFT","v":0.0042,"j":-0.06},{"g":"TFT","v":0.004,"j":0.1},{"g":"TFT","v":0.0038,"j":0.02},{"g":"TFT","v":0.0036,"j":-0.02},{"g":"TFT","v":0.0034,"j":0.07},{"g":"TFT","v":0.003,"j":-0.09},{"g":"TFT","v":0.003,"j":-0.06},{"g":"TFT","v":0.003,"j":-0.03},{"g":"TFT","v":0.0029,"j":0.04},{"g":"TFT","v":0.0028,"j":0.08},{"g":"TFT","v":0.0027,"j":-0.07},{"g":"TFT","v":0.0026,"j":0},{"g":"TFT","v":0.0025,"j":0.09},{"g":"TFT","v":0.0024,"j":-0.03},{"g":"TFT","v":0.002,"j":-0.1},{"g":"TFT","v":0.002,"j":-0.05},{"g":"TFT","v":0.002,"j":0.02},{"g":"TFT","v":0.0019,"j":0.07},{"g":"TFT","v":0.0018,"j":-0.02},{"g":"TFT","v":0.0017,"j":0.1},{"g":"TFT","v":0.0016,"j":-0.08},{"g":"TFT","v":0.0016,"j":0.04},{"g":"TFT","v":0.0015,"j":-0.04},{"g":"TFT","v":0.0014,"j":0.06},{"g":"TFT","v":0.0014,"j":0},{"g":"TFT","v":0.0013,"j":-0.09},{"g":"TFT","v":0.0013,"j":0.08},{"g":"TFT","v":0.0012,"j":-0.06},{"g":"TFT","v":0.0012,"j":0.03},{"g":"TFT","v":0.0011,"j":-0.01},{"g":"TFT","v":0.0011,"j":0.09},{"g":"TFT","v":0.0011,"j":-0.05},{"g":"TFT","v":0.001,"j":-0.09},{"g":"TFT","v":0.001,"j":-0.06},{"g":"TFT","v":0.001,"j":-0.03},{"g":"TFT","v":0.001,"j":0},{"g":"TFT","v":0.001,"j":0.03},{"g":"TFT","v":0.001,"j":0.06},{"g":"TFT","v":0.001,"j":0.09},{"g":"TFT","v":0.00095,"j":-0.07},{"g":"TFT","v":0.0009,"j":0.05},{"g":"TFT","v":0.00088,"j":-0.02},{"g":"TFT","v":0.00085,"j":0.08},{"g":"TFT","v":0.0008,"j":-0.09},{"g":"TFT","v":0.00078,"j":0.02},{"g":"TFT","v":0.00075,"j":-0.05},{"g":"TFT","v":0.0007,"j":0.07},{"g":"TFT","v":0.00068,"j":-0.01},{"g":"TFT","v":0.00065,"j":0.04},{"g":"TFT","v":0.00062,"j":-0.08},{"g":"TFT","v":0.0006,"j":0.1},{"g":"TFT","v":0.0005,"j":-0.06},{"g":"TFT","v":0.0005,"j":0.02},{"g":"TFT","v":0.0005,"j":0.06},{"g":"TFT","v":0.00047,"j":-0.09},{"g":"TFT","v":0.00045,"j":0.03},{"g":"TFT","v":0.00042,"j":-0.03},{"g":"TFT","v":0.0004,"j":0.07},{"g":"TFT","v":0.00038,"j":-0.07},{"g":"TFT","v":0.00036,"j":0.01},{"g":"TFT","v":0.00034,"j":-0.02},{"g":"TFT","v":0.00033,"j":0.05},{"g":"TFT","v":0.0002,"j":-0.06},{"g":"TFT","v":0.0002,"j":-0.04},{"g":"TFT","v":0.0002,"j":0.03},{"g":"TFT","v":0.0002,"j":0.09},{"g":"TFT","v":0.00017,"j":0.02},{"g":"TFT","v":0.00014,"j":0.09},{"g":"TFT","v":0.00011,"j":-0.09},
{"g":"TFT","v":0.0019,"j":-0.06},{"g":"TFT","v":0.0018,"j":0.05},{"g":"TFT","v":0.0017,"j":-0.03},{"g":"TFT","v":0.0015,"j":0.08},{"g":"TFT","v":0.0014,"j":-0.08},{"g":"TFT","v":0.0013,"j":0.02},{"g":"TFT","v":0.0012,"j":0.07},{"g":"TFT","v":0.0011,"j":-0.1},{"g":"TFT","v":0.00105,"j":0.04},{"g":"TFT","v":0.001,"j":-0.07},{"g":"TFT","v":0.001,"j":0.01},{"g":"TFT","v":0.001,"j":0.07},{"g":"TFT","v":0.00095,"j":0.03},{"g":"TFT","v":0.0009,"j":-0.04},{"g":"TFT","v":0.00085,"j":-0.08},{"g":"TFT","v":0.0008,"j":0.06},{"g":"TFT","v":0.00075,"j":0.01},{"g":"TFT","v":0.0007,"j":-0.06},{"g":"TFT","v":0.00066,"j":0.09},{"g":"TFT","v":0.0006,"j":-0.03},{"g":"TFT","v":0.00056,"j":0.05},{"g":"TFT","v":0.00052,"j":-0.01},{"g":"TFT","v":0.0026,"j":0.05},{"g":"TFT","v":0.0023,"j":-0.07},{"g":"TFT","v":0.0022,"j":0.03},
{"g":"MOT","v":0.014,"j":0.1},{"g":"MOT","v":0.004,"j":0.03},{"g":"MOT","v":0.001,"j":-0.11},{"g":"MOT","v":0.001,"j":-0.09},{"g":"MOT","v":0.001,"j":-0.07},{"g":"MOT","v":0.001,"j":-0.05},{"g":"MOT","v":0.001,"j":-0.03},{"g":"MOT","v":0.001,"j":-0.01},{"g":"MOT","v":0.001,"j":0.01},{"g":"MOT","v":0.001,"j":0.03},{"g":"MOT","v":0.001,"j":0.05},{"g":"MOT","v":0.001,"j":0.08}
]
},
"layer": [
{
"data": {"name": "box"},
"mark": {"type": "bar", "width": 91.5, "fill": "#f0dcb4", "fillOpacity": 0.72, "stroke": "#333333", "strokeWidth": 1.2},
"encoding": {
"x": {"field": "g", "type": "nominal", "sort": null,
"scale": {"domain": ["TBT","DBT","MBT","TTBT","MFT","DFT","DOT","TFT","MOT"], "paddingInner": 0, "paddingOuter": 0.063, "align": 0.794},
"axis": {"orient": "bottom", "title": null, "labelAngle": 0, "labelFontSize": 17, "labelColor": "#4d4d4d", "labelPadding": 5, "tickSize": 6, "tickColor": "#333333", "tickWidth": 1.5, "domainColor": "#333333", "domainWidth": 1.2, "grid": true, "gridColor": "#ebebeb", "gridWidth": 2}},
"y": {"field": "q1", "type": "quantitative",
"scale": {"type": "log", "domain": [5.38e-5, 32.5], "nice": false},
"axis": {"orient": "left",
"values": [6e-5,7e-5,8e-5,9e-5,1e-4,2e-4,3e-4,4e-4,5e-4,6e-4,7e-4,8e-4,9e-4,0.001,0.002,0.003,0.004,0.005,0.006,0.007,0.008,0.009,0.01,0.02,0.03,0.04,0.05,0.06,0.07,0.08,0.09,0.1,0.2,0.3,0.4,0.5,0.6,0.7,0.8,0.9,1,2,3,4,5,6,7,8,9,10,20,30],
"title": "Pitoisuus sedimentissä (mg/kg)", "titleFontSize": 22, "titleFontWeight": "normal", "titleColor": "black",
"titleX": -68, "titleY": 292, "titleAlign": "center", "titleBaseline": "middle", "titleAngle": 270,
"labelExpr": "abs(log(datum.value)/LN10) < 0.001 ? '10⁰' : (abs(log(datum.value)/LN10 + 3) < 0.001 ? '10⁻³' : '')",
"labelFontSize": 18, "labelColor": "#4d4d4d", "labelPadding": 7, "labelOverlap": false, "labelBound": false,
"tickSize": 7, "tickColor": "#333333", "tickWidth": 1.5,
"tickOpacity": {"condition": {"test": "abs(log(datum.value)/LN10) < 0.001 || abs(log(datum.value)/LN10 + 3) < 0.001", "value": 1}, "value": 0},
"grid": true, "gridColor": "#ebebeb", "gridWidth": 1,
"domainColor": "#333333", "domainWidth": 1.2}},
"y2": {"field": "q3"}
}
},
{
"data": {"name": "pts"},
"mark": {"type": "point", "filled": true, "fill": "#7f7f7f", "stroke": "black", "strokeWidth": 1, "opacity": 0.33, "size": 48},
"encoding": {
"x": {"field": "g", "type": "nominal", "sort": null,
"axis": {"orient": "top", "title": null, "labels": false, "ticks": false, "grid": false, "domainColor": "#333333", "domainWidth": 1.2}},
"xOffset": {"field": "j", "type": "quantitative", "scale": {"domain": [-0.5, 0.5], "range": [0, 122.07]}},
"y": {"field": "v", "type": "quantitative",
"scale": {"type": "log", "domain": [5.38e-5, 32.5], "nice": false},
"axis": {"orient": "left",
"values": [6e-5,7e-5,8e-5,9e-5,1e-4,2e-4,3e-4,4e-4,5e-4,6e-4,7e-4,8e-4,9e-4,0.001,0.002,0.003,0.004,0.005,0.006,0.007,0.008,0.009,0.01,0.02,0.03,0.04,0.05,0.06,0.07,0.08,0.09,0.1,0.2,0.3,0.4,0.5,0.6,0.7,0.8,0.9,1,2,3,4,5,6,7,8,9,10,20,30],
"title": null, "labels": false, "domain": false, "grid": false, "tickColor": "black", "tickWidth": 2,
"tickSize": {"condition": [{"test": "abs(log(datum.value)/LN10 - round(log(datum.value)/LN10)) < 0.001", "value": -24}, {"test": "abs(log(datum.value/5)/LN10 - round(log(datum.value/5)/LN10)) < 0.001", "value": -16}], "value": -8}}}
}
},
{
"data": {"name": "box"},
"mark": {"type": "rule", "color": "black", "strokeWidth": 1.5},
"encoding": {
"x": {"field": "g", "type": "nominal", "sort": null, "axis": null},
"y": {"field": "min", "type": "quantitative",
"scale": {"type": "log", "domain": [5.38e-5, 32.5], "nice": false},
"axis": {"orient": "right", "offset": 9,
"values": [6e-5,7e-5,8e-5,9e-5,1e-4,2e-4,3e-4,4e-4,5e-4,6e-4,7e-4,8e-4,9e-4,0.001,0.002,0.003,0.004,0.005,0.006,0.007,0.008,0.009,0.01,0.02,0.03,0.04,0.05,0.06,0.07,0.08,0.09,0.1,0.2,0.3,0.4,0.5,0.6,0.7,0.8,0.9,1,2,3,4,5,6,7,8,9,10,20,30],
"title": null, "labels": false, "domain": false, "grid": false, "tickColor": "black", "tickWidth": 2,
"tickSize": {"condition": [{"test": "abs(log(datum.value)/LN10 - round(log(datum.value)/LN10)) < 0.001", "value": -24}, {"test": "abs(log(datum.value/5)/LN10 - round(log(datum.value/5)/LN10)) < 0.001", "value": -16}], "value": -8}}},
"y2": {"field": "max"}
}
},
{
"data": {"name": "box"},
"mark": {"type": "tick", "color": "#333333", "thickness": 3, "size": 91.5, "opacity": 1},
"encoding": {
"x": {"field": "g", "type": "nominal", "sort": null, "axis": null},
"y": {"field": "med", "type": "quantitative", "scale": {"type": "log", "domain": [5.38e-5, 32.5], "nice": false}, "axis": null}
}
}
],
"resolve": {"axis": {"x": "independent", "y": "independent"}}
}
